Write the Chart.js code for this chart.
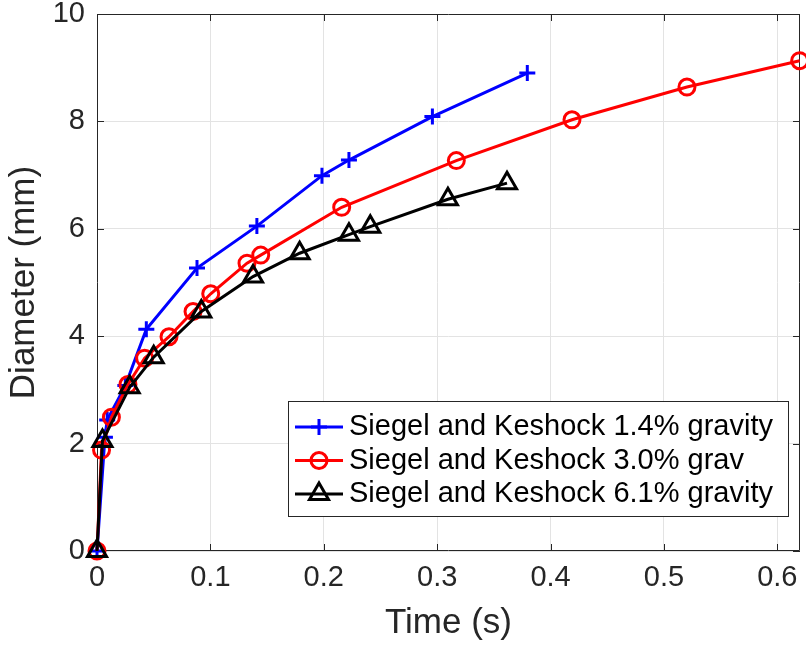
<!DOCTYPE html>
<html>
<head>
<meta charset="utf-8">
<title>Diameter vs time</title>
<script src="https://cdn.jsdelivr.net/npm/chart.js@4.4.1/dist/chart.umd.min.js"></script>
<style>
  html, body { margin: 0; padding: 0; background: #fff; }
  #wrap { width: 806px; height: 648px; position: relative; }
</style>
</head>
<body>
<div id="wrap"><canvas id="canvasDiameter"></canvas></div>
<script>
"use strict";
// Siegel and Keshock bubble growth runs at reduced gravity
var time14 = [0, 0.007, 0.009, 0.025, 0.0435, 0.0882, 0.141, 0.1984, 0.2222, 0.2958, 0.3795];
var diam14 = [0, 2.12, 2.44, 3.08, 4.13, 5.27, 6.05, 6.99, 7.28, 8.09, 8.90];

var time30 = [0, 0.004, 0.0127, 0.0273, 0.042, 0.0635, 0.0847, 0.1003, 0.1323, 0.1444, 0.2158, 0.3169, 0.4189, 0.5203, 0.6197];
var diam30 = [0, 1.88, 2.49, 3.10, 3.59, 3.99, 4.46, 4.79, 5.36, 5.51, 6.40, 7.27, 8.03, 8.64, 9.13];

var time61 = [0, 0.0048, 0.0288, 0.05, 0.092, 0.1376, 0.1787, 0.2222, 0.241, 0.3095, 0.3616];
var diam61 = [0, 2.05, 3.05, 3.61, 4.46, 5.11, 5.545, 5.89, 6.04, 6.55, 6.85];

var seriesLabels = [
    'Siegel and Keshock 1.4% gravity',
    'Siegel and Keshock 3.0% grav',
    'Siegel and Keshock 6.1% gravity'
];
var xTicks = [0, 0.1, 0.2, 0.3, 0.4, 0.5, 0.6];
var yTicks = [0, 2, 4, 6, 8, 10];

var fontFamily = '"Liberation Sans", Arial, Helvetica, sans-serif';
var axisColor = '#262626';

function toPoints(xs, ys) {
    return xs.map(function (x, i) { return { x: x, y: ys[i] }; });
}

function makeSeries(label, xs, ys, color, style, radius, order) {
    return {
        label: label,
        data: toPoints(xs, ys),
        showLine: true,
        tension: 0,
        borderColor: color,
        backgroundColor: color,
        borderWidth: 3,
        pointStyle: style,
        pointRadius: radius,
        pointHoverRadius: radius,
        pointBorderColor: color,
        pointBackgroundColor: 'rgba(0,0,0,0)',
        pointBorderWidth: 3,
        clip: false,
        order: order
    };
}

// keep tick labels from pushing the plot area around
function noOverflow(axis) {
    axis.paddingTop = 0;
    axis.paddingBottom = 0;
    axis.paddingLeft = 0;
    axis.paddingRight = 0;
}

// box round the plot area plus inward tick marks on all four sides
var axesFrame = {
    id: 'axesFrame',
    beforeDatasetsDraw: function (chart) {
        var ctx = chart.ctx;
        var a = chart.chartArea;
        var xs = chart.scales.x, ys = chart.scales.y;
        var tl = 7;
        ctx.save();
        ctx.strokeStyle = axisColor;
        ctx.lineWidth = 1;
        ctx.beginPath();
        ctx.rect(Math.round(a.left) + 0.5, Math.round(a.top) + 0.5,
            Math.round(a.right - a.left) - 1, Math.round(a.bottom - a.top) - 1);
        xTicks.forEach(function (v) {
            var px = Math.round(xs.getPixelForValue(v)) + 0.5;
            ctx.moveTo(px, a.bottom);
            ctx.lineTo(px, a.bottom - tl);
            ctx.moveTo(px, a.top);
            ctx.lineTo(px, a.top + tl);
        });
        yTicks.forEach(function (v) {
            var py = Math.round(ys.getPixelForValue(v)) + 0.5;
            ctx.moveTo(a.left, py);
            ctx.lineTo(a.left + tl, py);
            ctx.moveTo(a.right, py);
            ctx.lineTo(a.right - tl, py);
        });
        ctx.stroke();
        ctx.restore();
    }
};

// legend box in the lower right corner of the plot
var boxLegend = {
    id: 'boxLegend',
    afterDraw: function (chart) {
        var ctx = chart.ctx;
        var a = chart.chartArea;
        var sets = chart.data.datasets;
        var padL = 7, sampleW = 48, gap = 6, padR = 16;
        var rowH = 33.5, topPad = 26, boxH = 116;
        ctx.save();
        ctx.font = '29px ' + fontFamily;
        var textW = 0;
        sets.forEach(function (ds) {
            textW = Math.max(textW, ctx.measureText(ds.label).width);
        });
        var w = padL + sampleW + gap + textW + padR;
        var x1 = a.right - 11;
        var y1 = a.bottom - 34;
        var x0 = Math.round(x1 - w);
        var y0 = Math.round(y1 - boxH);
        ctx.fillStyle = '#fff';
        ctx.fillRect(x0, y0, x1 - x0, y1 - y0);
        ctx.strokeStyle = axisColor;
        ctx.lineWidth = 1;
        ctx.strokeRect(x0 + 0.5, y0 + 0.5, x1 - x0 - 1, y1 - y0 - 1);

        sets.forEach(function (ds, i) {
            var y = y0 + topPad + i * rowH;
            ctx.strokeStyle = ds.borderColor;
            ctx.lineWidth = 3;
            ctx.beginPath();
            ctx.moveTo(x0 + padL, y);
            ctx.lineTo(x0 + padL + sampleW, y);
            ctx.stroke();
            ctx.fillStyle = 'rgba(0,0,0,0)';
            Chart.helpers.drawPoint(ctx, {
                pointStyle: ds.pointStyle,
                radius: ds.pointRadius,
                borderWidth: 3,
                rotation: 0
            }, x0 + padL + sampleW / 2, y);
            ctx.fillStyle = '#000';
            ctx.textBaseline = 'middle';
            ctx.textAlign = 'left';
            ctx.fillText(ds.label, x0 + padL + sampleW + gap, y);
        });
        ctx.restore();
    }
};

var context = document.getElementById('canvasDiameter');
new Chart(context, {
    type: 'scatter',
    data: {
        datasets: [
            makeSeries(seriesLabels[0], time14, diam14, '#0000ff', 'cross', 8, 3),
            makeSeries(seriesLabels[1], time30, diam30, '#ff0000', 'circle', 8, 2),
            makeSeries(seriesLabels[2], time61, diam61, '#000000', 'triangle', 11, 1)
        ]
    },
    options: {
        responsive: true,
        maintainAspectRatio: false,
        animation: false,
        events: [],
        layout: {
            autoPadding: false,
            padding: { left: 0, right: 6, top: 14, bottom: 0 }
        },
        plugins: {
            legend: { display: false },
            tooltip: { enabled: false }
        },
        scales: {
            x: {
                type: 'linear',
                min: 0,
                max: 0.62,
                afterBuildTicks: function (axis) {
                    axis.ticks = xTicks.map(function (v) { return { value: v }; });
                },
                afterFit: function (axis) {
                    axis.height = 97;
                    noOverflow(axis);
                },
                ticks: {
                    color: axisColor,
                    font: { size: 29, family: fontFamily },
                    padding: 10,
                    maxRotation: 0,
                    autoSkip: false,
                    callback: function (v) { return String(v); }
                },
                grid: { color: '#e3e3e3', lineWidth: 1, drawTicks: false },
                border: { display: false },
                title: {
                    display: true,
                    text: 'Time (s)',
                    color: axisColor,
                    font: { size: 35, family: fontFamily },
                    padding: { top: 0, bottom: 4 }
                }
            },
            y: {
                type: 'linear',
                min: 0,
                max: 10,
                afterBuildTicks: function (axis) {
                    axis.ticks = yTicks.map(function (v) { return { value: v }; });
                },
                afterFit: function (axis) {
                    axis.width = 97;
                    noOverflow(axis);
                },
                ticks: {
                    color: axisColor,
                    font: { size: 29, family: fontFamily },
                    padding: 12,
                    autoSkip: false,
                    callback: function (v) { return String(v); }
                },
                grid: { color: '#e3e3e3', lineWidth: 1, drawTicks: false },
                border: { display: false },
                title: {
                    display: true,
                    text: 'Diameter (mm)',
                    color: axisColor,
                    font: { size: 35, family: fontFamily },
                    padding: { top: 3, bottom: 0 }
                }
            }
        }
    },
    plugins: [axesFrame, boxLegend]
});
</script>
</body>
</html>
